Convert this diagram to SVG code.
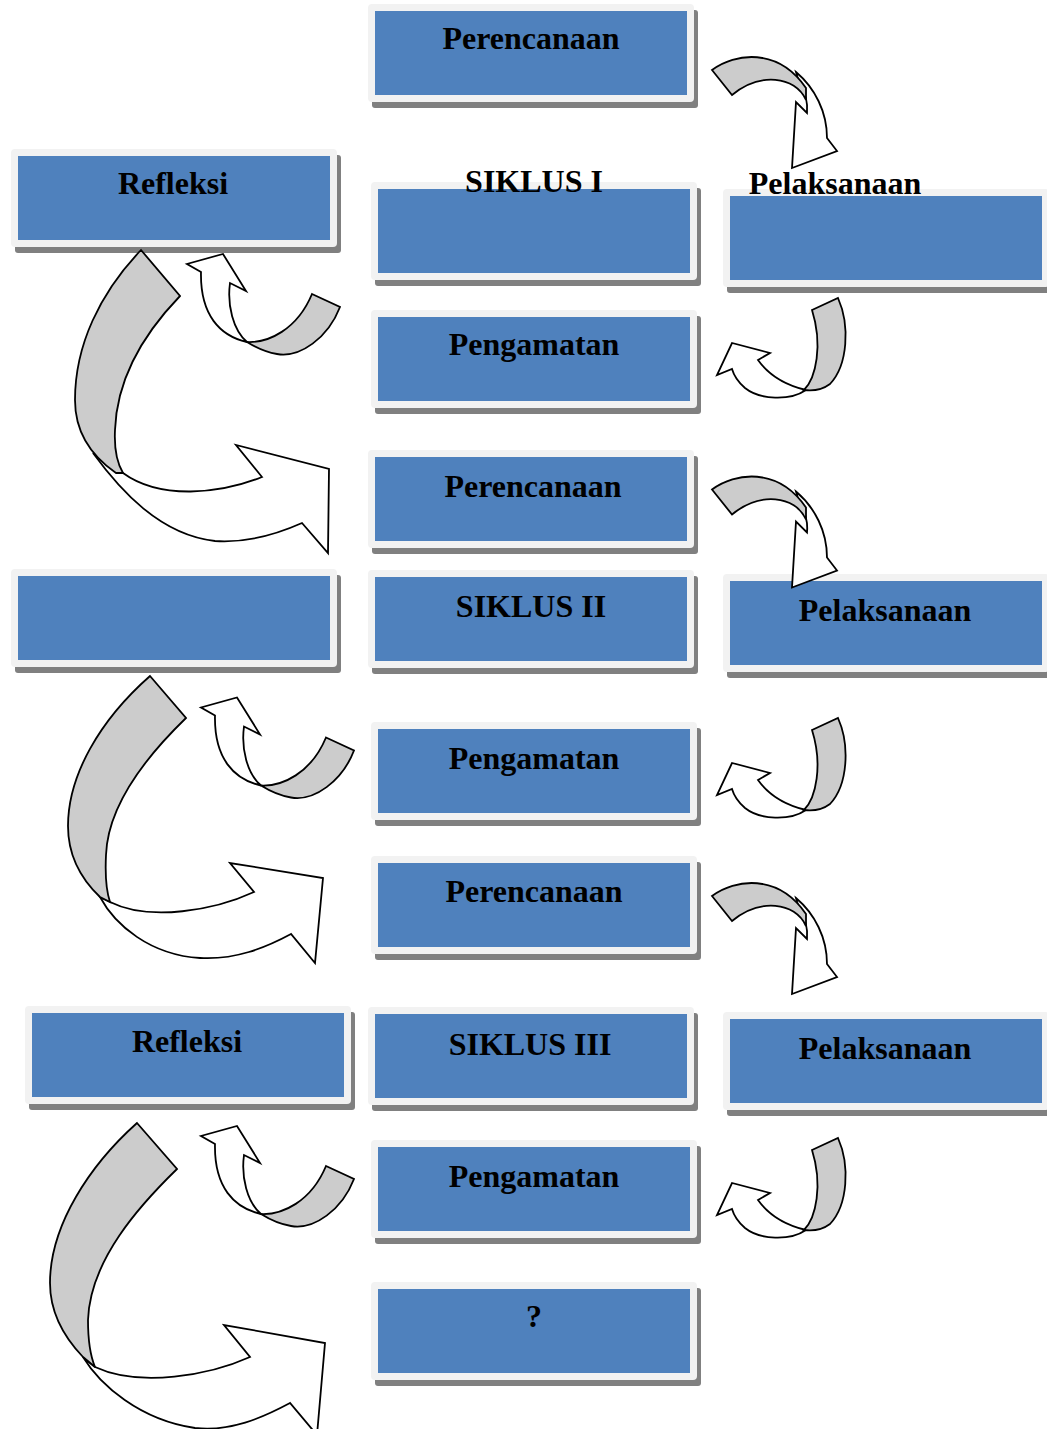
<svg xmlns="http://www.w3.org/2000/svg" xmlns:xlink="http://www.w3.org/1999/xlink" width="1047" height="1429" viewBox="0 0 1047 1429">
<style>
.shadow{fill:#808080}
.outer{fill:#f2f2f2}
.inner{fill:#4f81bd}
.lbl{font-family:"Liberation Serif","Times New Roman",serif;font-weight:bold;font-size:32px;text-anchor:middle;fill:#000}
.band{fill:#cccccc;stroke:#000;stroke-width:1.8;stroke-linejoin:miter}
.body{fill:#ffffff;stroke:#000;stroke-width:1.8;stroke-linejoin:miter}
</style>
<defs>
<g id="box">
<rect class="shadow" x="-3" y="-1" width="326" height="98" rx="3"/>
<rect class="outer" x="-7" y="-7" width="326" height="98" rx="4"/>
<rect class="inner" x="0" y="0" width="312" height="84"/>
</g>
<g id="arrowA">
<path class="body" d="M796,72 C815,88 827,112 827,138 L837,151 L792,168 L796,102 L807,113 C808,102 806,94 800,86 Z"/>
<path class="band" d="M712,70 C735,53 778,47 806,88 L806,100 C795,76 760,72 732,95 Z"/>
</g>
<g id="arrowB">
<path class="body" d="M806,390 C790,401 760,400 745,388 C738,382 734,376 732,369 L717,375 L732,343 L770,353 L758,360 C768,374 785,385 806,390 Z"/>
<path class="band" d="M812,310 L838,298 C850,325 848,365 830,384 C822,390 812,391 804,390 C816,378 823,345 812,310 Z"/>
</g>
<g id="arrowC">
<path class="body" d="M247,342 C220,336 200,315 201,272 L187,264 L223,254 L246,291 L230,283 C227,305 233,330 247,342 Z"/>
<path class="band" d="M312,294 L340,307 C328,338 300,358 277,354 C265,352 255,347 247,342 C268,343 297,330 312,294 Z"/>
</g>
</defs>

<g id="n-perencanaan-1"><use href="#box" x="375" y="11"/><text class="lbl" x="531" y="49">Perencanaan</text></g>
<g id="n-siklus-1"><use href="#box" x="378" y="189"/><text class="lbl" x="534" y="192">SIKLUS I</text></g>
<g id="n-pelaksanaan-1"><use href="#box" x="730" y="196"/><text class="lbl" x="835" y="194">Pelaksanaan</text></g>
<g id="n-refleksi-1"><use href="#box" x="18" y="156"/><text class="lbl" x="173" y="194">Refleksi</text></g>
<g id="n-pengamatan-1"><use href="#box" x="378" y="317"/><text class="lbl" x="534" y="355">Pengamatan</text></g>

<g id="n-perencanaan-2"><use href="#box" x="375" y="457"/><text class="lbl" x="533" y="497">Perencanaan</text></g>
<g id="n-refleksi-2"><use href="#box" x="18" y="576"/></g>
<g id="n-siklus-2"><use href="#box" x="375" y="577"/><text class="lbl" x="531" y="617">SIKLUS II</text></g>
<g id="n-pelaksanaan-2"><use href="#box" x="730" y="581"/><text class="lbl" x="885" y="621">Pelaksanaan</text></g>
<g id="n-pengamatan-2"><use href="#box" x="378" y="729"/><text class="lbl" x="534" y="769">Pengamatan</text></g>

<g id="n-perencanaan-3"><use href="#box" x="378" y="863"/><text class="lbl" x="534" y="902">Perencanaan</text></g>
<g id="n-refleksi-3"><use href="#box" x="32" y="1013"/><text class="lbl" x="187" y="1052">Refleksi</text></g>
<g id="n-siklus-3"><use href="#box" x="375" y="1014"/><text class="lbl" x="530" y="1055">SIKLUS III</text></g>
<g id="n-pelaksanaan-3"><use href="#box" x="730" y="1019"/><text class="lbl" x="885" y="1059">Pelaksanaan</text></g>
<g id="n-pengamatan-3"><use href="#box" x="378" y="1147"/><text class="lbl" x="534" y="1187">Pengamatan</text></g>
<g id="n-next"><use href="#box" x="378" y="1289"/><text class="lbl" x="534" y="1327">?</text></g>

<g id="connectors">
<use href="#arrowA"/>
<use href="#arrowA" transform="translate(0,419.5)"/>
<use href="#arrowA" transform="translate(0,826)"/>
<use href="#arrowB"/>
<use href="#arrowB" transform="translate(0,420)"/>
<use href="#arrowB" transform="translate(0,840)"/>
<use href="#arrowC"/>
<use href="#arrowC" transform="translate(14,443.5)"/>
<use href="#arrowC" transform="translate(14,872)"/>
<g id="arrowD1">
<path class="body" d="M93,453 C120,490 160,535 215,541 C245,543 275,535 302,523 L328,553 L329,469 L236,445 L262,477 C220,494 160,500 123,473 Z"/>
<path class="band" d="M141,250 L180,296 C152,325 117,372 115,430 C114,450 117,463 123,473 L116,473 C90,455 75,430 75,400 C75,345 100,293 141,250 Z"/>
</g>
<g id="arrowD2">
<path class="body" d="M100,897 C115,925 150,955 200,958 C235,960 265,948 291,934 L315,963 L323,878 L230,863 L254,892 C215,910 150,922 110,902 Z"/>
<path class="band" d="M150,676 L186,718 C155,748 108,800 106,855 C105,875 106,890 110,902 L100,897 C80,878 68,855 68,826 C68,775 100,720 150,676 Z"/>
</g>
<g id="arrowD3">
<path class="body" d="M83,1357 C100,1385 140,1420 195,1428 C230,1432 262,1418 290,1403 L317,1435 L325,1343 L224,1325 L250,1357 C210,1375 140,1388 95,1367 Z"/>
<path class="band" d="M137,1123 L177,1169 C140,1205 90,1260 88,1320 C88,1340 90,1355 95,1367 L83,1357 C62,1335 50,1310 50,1283 C50,1225 90,1165 137,1123 Z"/>
</g>
</g>
</svg>
